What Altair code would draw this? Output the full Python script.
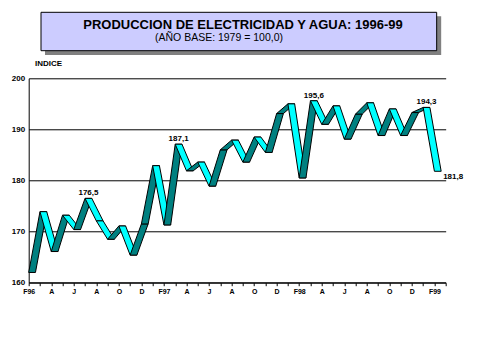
import json
import altair as alt
import pandas as pd

# ---- data ----
MONTH_LABELS = ["F96", "A", "J", "A", "O", "D", "F97", "A", "J", "A", "O", "D",
                "F98", "A", "J", "A", "O", "D", "F99"]
VALUES = [162.0, 173.9, 166.1, 173.2, 170.4, 176.5, 172.1, 168.5, 171.1, 165.4,
          171.5, 182.9, 171.3, 187.1, 181.9, 183.6, 178.9, 186.0, 187.9, 183.6,
          188.5, 185.5, 193.1, 195.0, 180.5, 195.6, 191.0, 194.6, 188.1, 193.0,
          195.2, 188.8, 194.0, 188.8, 193.3, 194.3, 181.8]
LABEL_IDX = [5, 13, 25, 35]
END_IDX = [36]
Y_TICKS = [160, 170, 180, 190, 200]
TITLE = "PRODUCCION DE ELECTRICIDAD Y AGUA: 1996-99"
SUBTITLE = "(AÑO BASE: 1979 = 100,0)"
Y_TITLE = "INDICE"

FONT = "Liberation Sans"
N = len(VALUES)

# segment table for the 3-D ribbon
rows = []
for s in range(N - 1):
    d = "up" if VALUES[s + 1] >= VALUES[s] else "down"
    for i in (s, s + 1):
        rows.append({"seg": s, "i": i, "v": VALUES[i], "dir": d})
seg_df = pd.DataFrame(rows)

lab_df = pd.DataFrame({"i": LABEL_IDX, "v": [VALUES[i] for i in LABEL_IDX]})
end_df = pd.DataFrame({"i": END_IDX, "v": [VALUES[i] for i in END_IDX]})

xscale = alt.Scale(domain=[0, N], nice=False, zero=False)
yscale = alt.Scale(domain=[160, 200], nice=False, zero=False)

label_expr = ("datum.value % 2 == 0 && datum.value/2 < " + str(len(MONTH_LABELS))
              + " ? " + json.dumps(MONTH_LABELS) + "[datum.value/2] : ''")

x_axis = alt.Axis(values=list(range(N + 1)), labelExpr=label_expr,
                  grid=False, tickSize=3, tickColor="black",
                  domainColor="black", labelColor="black",
                  labelFontSize=7, labelFontWeight="bold", labelFont=FONT,
                  labelPadding=2, labelOverlap=False, labelFlush=False,
                  labelBound=False, labelSeparation=0, title=None)
y_axis = alt.Axis(values=Y_TICKS, grid=True, ticks=False, domain=True,
                  labelFontSize=8, labelFontWeight="bold", labelFont=FONT,
                  labelPadding=4, title=None, gridColor="black",
                  gridOpacity=1, domainColor="black", labelColor="black",
                  labelOverlap=False, labelFlush=False, labelBound=False)

ribbon = alt.Chart(seg_df).mark_area(
    orient="horizontal", stroke="black", strokeWidth=1, strokeJoin="miter"
).transform_calculate(
    x2="datum.i + 0.6"
).encode(
    y=alt.Y("v:Q", scale=yscale, axis=y_axis),
    x=alt.X("i:Q", scale=xscale, stack=None, axis=x_axis),
    x2=alt.X2("x2:Q"),
    color=alt.Color("dir:N", scale=alt.Scale(domain=["up", "down"],
                                             range=["#008080", "#00FFFF"]),
                    legend=None),
    detail="seg:N",
)

fmt = "replace(format(datum.v, '.1f'), '.', ',')"

labels = alt.Chart(lab_df).mark_text(
    font=FONT, fontSize=8, fontWeight="bold", align="center",
    baseline="alphabetic", dy=-3, color="black"
).transform_calculate(
    xc="datum.i + 0.3", t=fmt
).encode(x=alt.X("xc:Q", scale=xscale, axis=x_axis),
         y=alt.Y("v:Q", scale=yscale, axis=y_axis), text="t:N")

end_label = alt.Chart(end_df).mark_text(
    font=FONT, fontSize=8, fontWeight="bold", align="left",
    baseline="top", dx=2, dy=2, color="black"
).transform_calculate(
    xc="datum.i + 0.6", t=fmt
).encode(x=alt.X("xc:Q", scale=xscale, axis=x_axis),
         y=alt.Y("v:Q", scale=yscale, axis=y_axis), text="t:N")

one = pd.DataFrame({"k": [0]})
shadow = alt.Chart(one).mark_rect(fill="#808080").encode(
    x=alt.value(16.3), x2=alt.value(412.5), y=alt.value(-62), y2=alt.value(-23.3))
box = alt.Chart(one).mark_rect(fill="#CCCCFF", stroke="black", strokeWidth=1).encode(
    x=alt.value(12.3), x2=alt.value(408), y=alt.value(-66), y2=alt.value(-27.6))
title_t = alt.Chart(pd.DataFrame({"t": [TITLE]})).mark_text(
    font=FONT, fontSize=13, fontWeight="bold", align="center", baseline="alphabetic",
    color="black").encode(x=alt.value(214.3), y=alt.value(-49), text="t:N")
sub_t = alt.Chart(pd.DataFrame({"t": [SUBTITLE]})).mark_text(
    font=FONT, fontSize=10.5, align="center", baseline="alphabetic",
    color="black").encode(x=alt.value(190.3), y=alt.value(-37.3), text="t:N")
ytitle_t = alt.Chart(pd.DataFrame({"t": [Y_TITLE]})).mark_text(
    font=FONT, fontSize=8, fontWeight="bold", align="left", baseline="alphabetic",
    color="black").encode(x=alt.value(6.3), y=alt.value(-12.3), text="t:N")

chart = alt.layer(
    shadow, box, title_t, sub_t, ytitle_t, ribbon, labels, end_label
).properties(
    width=417, height=204.4,
    autosize=alt.AutoSizeParams(type="none"),
    padding={"left": 20.7, "top": 70.3, "right": 20, "bottom": 30},
    background="white",
).configure_view(stroke=None).configure_axis(
    labelOverlap=False, labelFlush=False, labelBound=False
)

chart.save("out.html", embed_options={"renderer": "svg", "actions": False})
